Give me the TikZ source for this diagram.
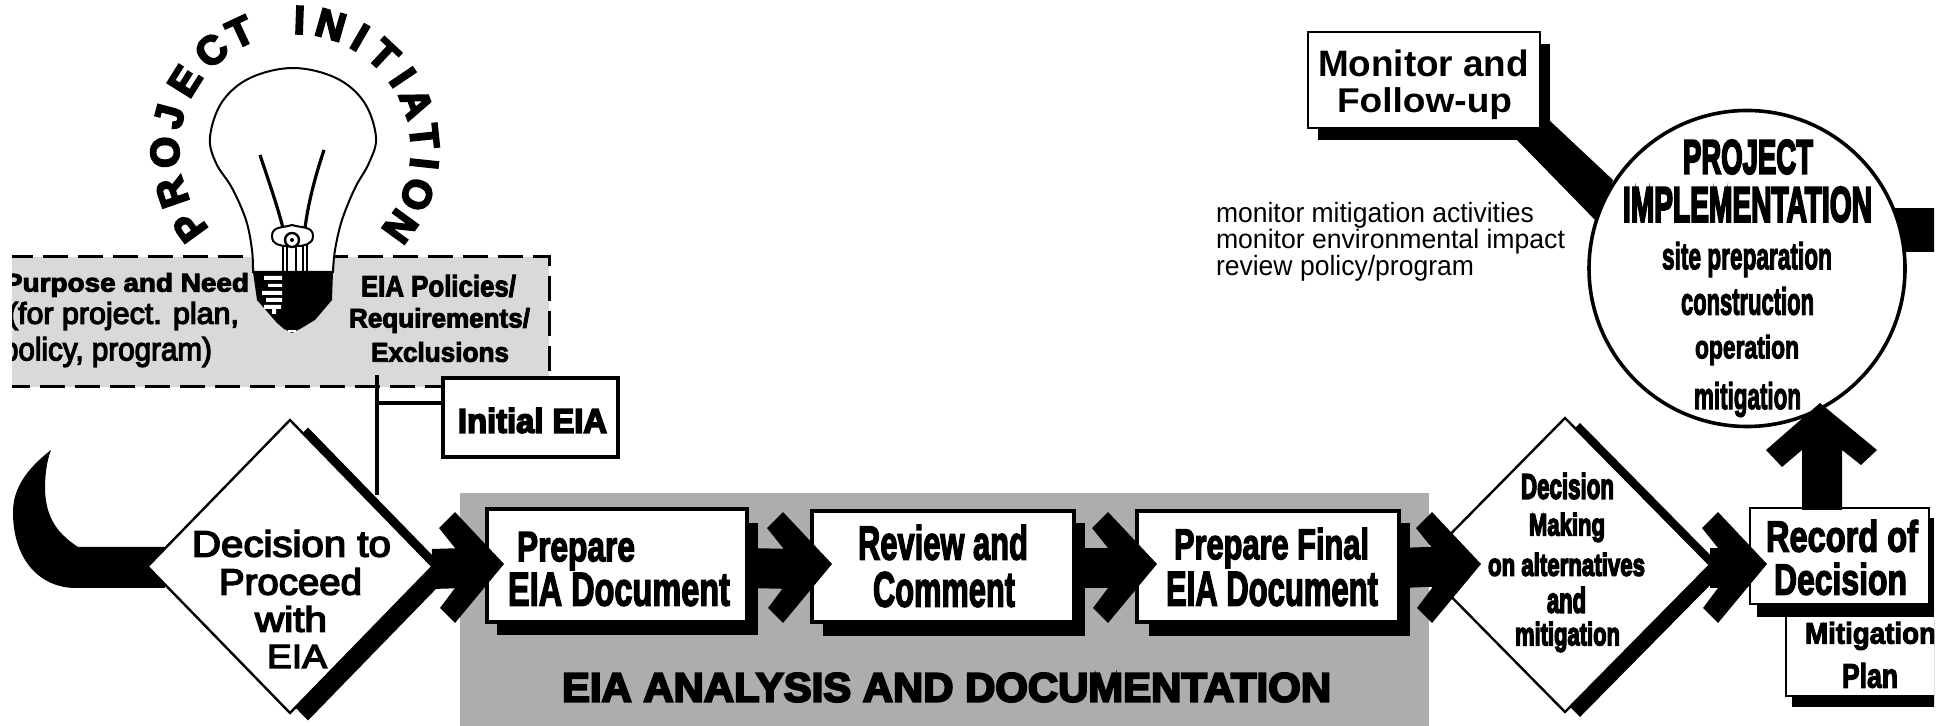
\documentclass[tikz,border=0pt]{standalone}
\usepackage{fontspec}
\usepackage{graphicx}
\usetikzlibrary{shapes.geometric,calc}
\setmainfont{Liberation Sans}
\newfontfamily\fH[BoldFeatures={FakeBold=5}]{Liberation Sans}
\newfontfamily\fB[BoldFeatures={FakeBold=3.5}]{Liberation Sans}
\newfontfamily\fP{Liberation Sans}
\newfontfamily\fM[FakeBold=4]{Liberation Sans}
\newfontfamily\fR{Liberation Sans}
\newcommand\hv{\fH\bfseries}
\newcommand\bd{\fB\bfseries}
\newcommand\pb{\fP\bfseries}
\newcommand\md{\fM}
\newcommand\rg{\fR}
\newdimen\pxu \pxu=.5pt
\newsavebox\tlbox
\newdimen\tlup \newdimen\tlkern
\newcommand\At[2]{\def\nx{#1}\def\ny{#2}}
% \Tl{x1}{x2}{y1}{y2}{text}: ink box in page pixels, relative to centre \nx,\ny
\newcommand\Tl[5]{%
\pgfmathsetmacro\tlw{#2-#1}\pgfmathsetmacro\tlh{#4-#3}%
\pgfmathsetmacro\tlcx{(#1+#2)/2-\nx}\pgfmathsetmacro\tlcy{(#3+#4)/2-\ny}%
\sbox\tlbox{\resizebox*{\tlw\pxu}{\tlh\pxu}{\fontsize{20}{20}\selectfont #5}}%
\tlup=\dimexpr \tlcy\pxu\relax \tlup=-\tlup
\advance\tlup by \dimexpr(\dp\tlbox-\ht\tlbox)/2\relax
\tlkern=\dimexpr \tlcx\pxu-\wd\tlbox/2\relax
\smash{\makebox[0pt][l]{\kern\tlkern\raisebox{\tlup}{\usebox\tlbox}}}}
\definecolor{panelgrey}{HTML}{ADADAD}
\definecolor{dashgrey}{HTML}{D9D9D9}
\tikzset{
 every node/.style={inner sep=0pt,outer sep=0pt,font=\fontsize{1}{1}\selectfont},
 boxw/.style={draw=black,fill=white,line width=1.7pt,rectangle},
 boxthin/.style={draw=black,fill=white,line width=1.2pt,rectangle},
 dia/.style={diamond,draw=black,fill=white,line width=1.2pt},
 diashadow/.style={diamond,fill=black},
 shaft/.style={draw=black,line width=20pt,line cap=butt},
 arcl/.style={font=\fontsize{20}{20}\selectfont\hv},
 thinline/.style={draw=black,line width=1.6pt},
}
\newcommand\headR[1]{\fill (#1) -- ++(-49,-52) -- ++(-16,16) -- ++(16,20) -- ++(0,40) -- ++(-15,20) -- ++(15,15) -- cycle;}
\begin{document}
\begin{tikzpicture}[x=.5pt,y=-.5pt]
\useasboundingbox (0,0) rectangle (1954,726);
\begin{scope}
\clip (12,0) rectangle (1934,726);
% EIA panel
\node[rectangle,fill=panelgrey,minimum width=484.5pt,minimum height=116.5pt] (panel) at (944.5,609.5)
 {\At{944.5}{609.5}\Tl{562}{1331}{673}{702}{\hv EIA ANALYSIS AND DOCUMENTATION}};
% dashed project box
\node[rectangle,fill=dashgrey,draw=black,line width=1.5pt,dash pattern=on 12.5pt off 5pt,minimum width=272pt,minimum height=65pt] (scope) at (277,322)
 {\At{277}{322}%
 \Tl{4}{249}{273}{297}{\bd Purpose and Need}%
 \Tl{8}{239}{302}{330}{\md (for project. plan,}%
 \Tl{2}{212}{337}{367}{\md policy, program)}%
 \Tl{361}{516}{275}{297}{\bd EIA Policies/}%
 \Tl{349}{530}{308}{333}{\bd Requirements/}%
 \Tl{371}{509}{342}{362}{\bd Exclusions}};
% bulb
\filldraw[fill=white,draw=black,line width=1pt] plot[smooth,tension=.6] coordinates {(253,272)(252,250)(246,220)(232,188)(216,163)(210,137)(222,102)(250,78)(293,68)(336,78)(364,102)(376,137)(369,163)(355,188)(342,220)(335,250)(333,272)} -- cycle;
\draw[line width=1.6pt] (260,155) .. controls (270,185) and (277,205) .. (283,228);
\draw[line width=1.6pt] (324,150) .. controls (314,180) and (308,205) .. (305,228);
\draw[line width=.9pt] (283,240) -- (283,272) (287,240) -- (287,272) (296,245) -- (296,272) (303,240) -- (303,272) (307,240) -- (307,272);
\filldraw[fill=white,draw=black,line width=1pt] (272,236) .. controls (272,226) and (283,228) .. (292,225) .. controls (301,228) and (313,226) .. (313,236) .. controls (313,245) and (303,245) .. (301,246) -- (284,246) .. controls (280,245) and (272,245) .. (272,236) -- cycle;
\filldraw[fill=white,draw=black,line width=1.2pt] (292,240) circle[radius=7];
\fill (292,240) circle[radius=2];
\fill (253,272) -- (333,272) -- (332,300) -- (315,320) -- (300,329) -- (292,333) -- (284,329) -- (277,323) -- (257,300) -- cycle;
\fill[white] (264,276) rectangle (282,280) (268,284) rectangle (282,287) (262,291) rectangle (282,295) (266,298) rectangle (282,302) (264,305) rectangle (281,309) (272,309) rectangle (276,314);
\fill[white] (288,330) rectangle (296,332);
% arc letters
\foreach \l/\a/\i in {P/-126/1,R/-109/2,O/-91/3,J/-75/4,E/-58/5,C/-40/6,T/-25/7,I/2/8,N/16/9,I/30/10,T/43/11,I/56/12,A/69/13,T/84/14,I/96/15,O/110/16,N/126/17}{
 \node[arcl,rotate=-\a] (arc\i) at ({295+130*sin(\a)},{150-130*cos(\a)}) {\l};
}
% Initial EIA
\node[boxw,minimum width=87.5pt,minimum height=39.5pt] (init) at (530.5,417.5)
 {\At{530.5}{417.5}\Tl{458}{607}{408}{433}{\hv Initial EIA}};
% decision 1
\coordinate (tap) at (377,375);
\coordinate (tapend) at (377,495);
\coordinate (tapmid) at (377,403);
\draw[thinline] (tap) -- (tapend);
\draw[thinline] (tapmid) -- (tapmid -| init.west);
\fill (51,450) .. controls (25,470) and (13,490) .. (13,512) .. controls (13,560) and (40,588) .. (76,588) -- (165,588) -- (165,547) -- (78,547) .. controls (60,535) and (45,520) .. (45,487) .. controls (45,475) and (47,460) .. (51,450) -- cycle;
\node[diashadow,minimum width=142.5pt,minimum height=146.5pt] (d1s) at (308,574) {};
\node[dia,minimum width=142.5pt,minimum height=146.5pt] (d1) at (290,566.5)
 {\At{290}{566.5}%
 \Tl{192}{391}{530}{557}{\md Decision to}%
 \Tl{219}{362}{568}{595}{\md Proceed}%
 \Tl{255}{327}{606}{632}{\md with}%
 \Tl{267}{327}{645}{668}{\md EIA}};
% boxes
\fill (497,523) rectangle (758,635);
\node[boxw,minimum width=130pt,minimum height=56.5pt] (b1) at (617,565.5)
 {\At{617}{565.5}\Tl{517}{635}{532}{570}{\bd Prepare}\Tl{508}{730}{573}{606}{\bd EIA Document}};
\fill (823,523) rectangle (1085,636);
\node[boxw,minimum width=131pt,minimum height=55.5pt] (b2) at (943,566.5)
 {\At{943}{566.5}\Tl{858}{1028}{525}{560}{\bd Review and}\Tl{873}{1015}{572}{607}{\bd Comment}};
\fill (1149,523) rectangle (1410,636);
\node[boxw,minimum width=131pt,minimum height=55.5pt] (b3) at (1268,566.5)
 {\At{1268}{566.5}\Tl{1174}{1369}{528}{568}{\bd Prepare Final}\Tl{1166}{1378}{572}{606}{\bd EIA Document}};
% decision 2
\node[diashadow,minimum width=145pt,minimum height=147pt] (d2s) at (1580,570) {};
\node[dia,minimum width=145pt,minimum height=147pt] (d2) at (1565,565)
 {\At{1565}{565}%
 \Tl{1521}{1614}{473}{499}{\hv Decision}%
 \Tl{1529}{1605}{513}{542}{\hv Making}%
 \Tl{1488}{1645}{553}{576}{\hv on alternatives}%
 \Tl{1547}{1586}{587}{613}{\hv and}%
 \Tl{1515}{1620}{622}{652}{\hv mitigation}};
% mitigation plan & record
\fill (1792,620) rectangle (1950,707);
\node[boxthin,minimum width=82pt,minimum height=43pt] (mit) at (1868,653)
 {\At{1868}{653}\Tl{1805}{1936}{622}{650}{\bd Mitigation}\Tl{1842}{1898}{663}{688}{\bd Plan}};
\fill (1757,518) rectangle (1934,617);
\node[boxthin,minimum width=89.5pt,minimum height=48pt] (rec) at (1839.5,556)
 {\At{1839.5}{556}\Tl{1766}{1918}{520}{552}{\bd Record of}\Tl{1774}{1907}{563}{595}{\bd Decision}};
% chevron arrows
\coordinate (t1) at (504,564);
\coordinate (t2) at (832,564);
\coordinate (t3) at (1157,564);
\coordinate (t4) at (1481,564);
\coordinate (t5) at (1767,564);
\draw[shaft] ([yshift=-1.25pt]d1.east) -- ([yshift=-1.25pt,xshift=-20pt]t1 |- b1.west);
\headR{t1}
\draw[shaft] ([yshift=-1.25pt]b1.east) -- ([yshift=-1.25pt,xshift=-20pt]t2 |- b2.west);
\headR{t2}
\draw[shaft] ([yshift=-.75pt]b2.east) -- ([yshift=-.75pt,xshift=-20pt]t3 |- b3.west);
\headR{t3}
\draw[shaft] ([yshift=-.75pt]b3.east) -- ([yshift=-.75pt,xshift=-20pt]t4 |- d2.west);
\headR{t4}
\draw[shaft] ([yshift=-1.5pt]d2.east) -- ([yshift=-1.5pt,xshift=-20pt]t5 |- d2.east);
\headR{t5}
% monitor
\fill (1549,120) -- (1613,180) -- (1597,222) -- (1517,140) -- cycle;
\fill (1318,44) rectangle (1550,140);
\node[boxthin,minimum width=116pt,minimum height=48pt] (mon) at (1424,80)
 {\At{1424}{80}\Tl{1318}{1529}{50}{77}{\pb Monitor and}\Tl{1337}{1512}{88}{120}{\pb Follow-up}};
\node (note) at (1390,240)
 {\At{1390}{240}%
 \Tl{1216}{1534}{202}{228}{\rg monitor mitigation activities}%
 \Tl{1216}{1565}{229}{254}{\rg monitor environmental impact}%
 \Tl{1216}{1474}{255}{281}{\rg review policy/program}};
% implementation
\fill (1880,208) rectangle (1940,252);
\node[circle,draw=black,fill=white,line width=1.8pt,minimum size=158pt] (impl) at (1747,268.5)
 {\At{1747}{268.5}%
 \Tl{1683}{1813}{140}{174}{\hv PROJECT}%
 \Tl{1623}{1872}{187}{222}{\hv IMPLEMENTATION}%
 \Tl{1662}{1832}{242}{277}{\bd site preparation}%
 \Tl{1681}{1814}{287}{315}{\bd construction}%
 \Tl{1695}{1799}{335}{365}{\bd operation}%
 \Tl{1694}{1801}{382}{417}{\bd mitigation}};
% up arrow
\coordinate (up) at (1820,403);
\fill (up) -- (1877,450) -- (1861,465) -- (1842,450) -- (1842,510) -- (1802,510) -- (1802,450) -- (1782,467) -- (1766,450) -- cycle;
\end{scope}
\end{tikzpicture}
\end{document}
